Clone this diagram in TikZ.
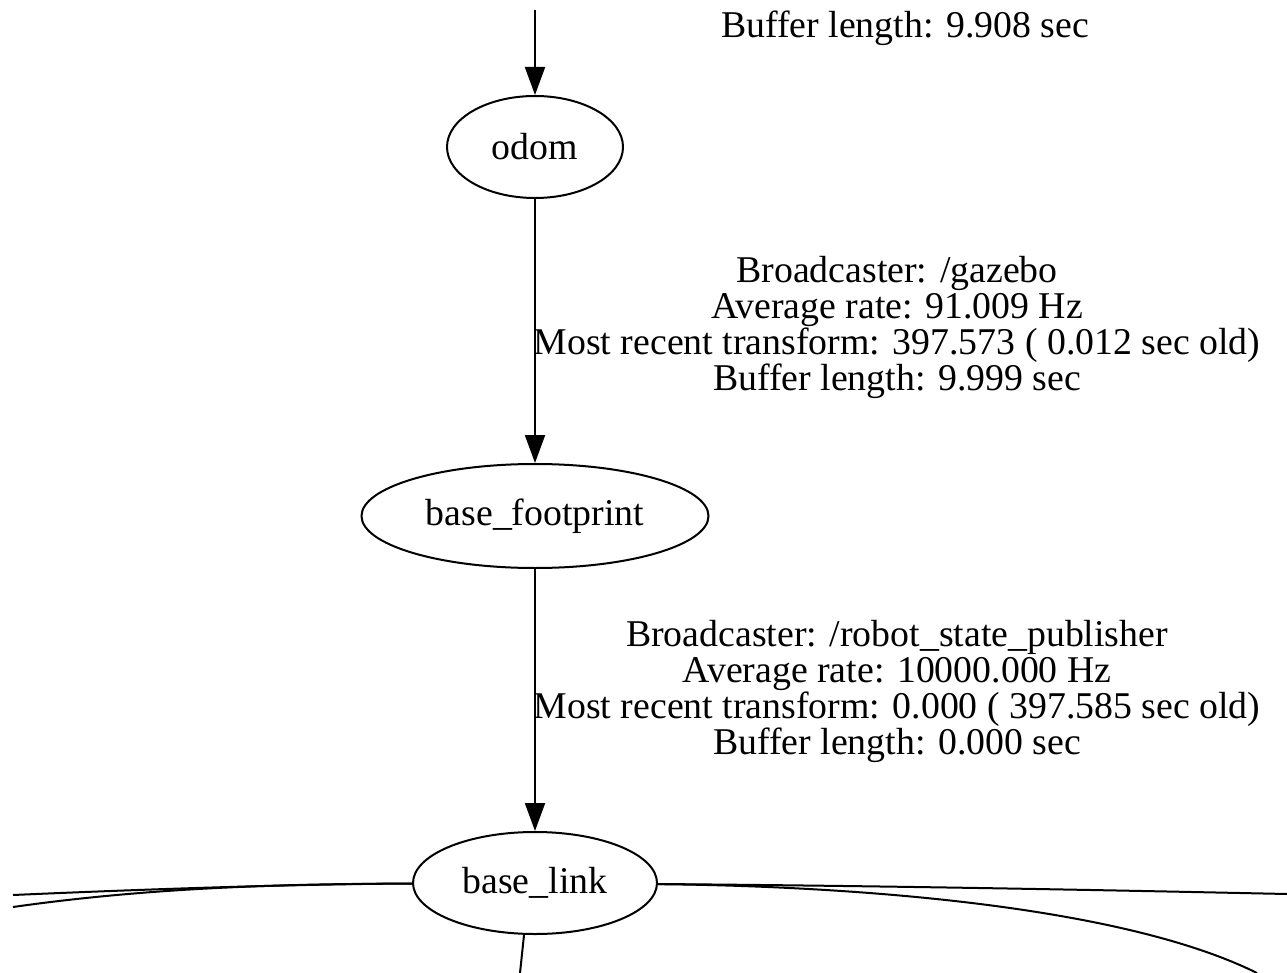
\documentclass[tikz,border=0pt]{standalone}
\usepackage{fontspec}
\setmainfont{Liberation Serif}
\usetikzlibrary{shapes.geometric,arrows.meta}
\begin{document}
\begin{tikzpicture}[x=1pt,y=-1pt,
  every node/.style={font=\fontsize{37.8}{36}\selectfont},
  frame/.style={draw,ellipse,line width=2pt,inner sep=0pt},
  lbl/.style={align=center,inner sep=0pt},
  edge/.style={line width=2pt},
  arr/.style={edge,-{Triangle[length=28pt,width=20pt]}}]
\useasboundingbox (0,0) rectangle (1287,973);
\node[frame,minimum width=176pt,minimum height=102pt] (odom) at (535,147) {odom};
\node[frame,minimum width=347pt,minimum height=104pt] (bf) at (535,516) {base\_footprint};
\node[frame,minimum width=244pt,minimum height=102pt] (bl) at (535,883) {base\_link};
\coordinate (t0) at (535,10);
\draw[arr] (t0) -- (odom);
\draw[arr] (odom) -- (bf);
\draw[arr] (bf) -- (bl);
\node[lbl] (l0) at (905,28) {Buffer length: 9.908 sec};
\node[lbl] (l1) at (897,327) {Broadcaster: /gazebo\\Average rate: 91.009 Hz\\Most recent transform: 397.573 ( 0.012 sec old)\\Buffer length: 9.999 sec};
\node[lbl] (l2) at (897,691) {Broadcaster: /robot\_state\_publisher\\Average rate: 10000.000 Hz\\Most recent transform: 0.000 ( 397.585 sec old)\\Buffer length: 0.000 sec};
\coordinate (e1) at (13,895);
\coordinate (e2) at (13,907);
\coordinate (e3) at (1287,894);
\coordinate (e4) at (1257,973);
\coordinate (e5) at (520,973);
\draw[edge] (bl) .. controls (300,884) and (150,889) .. (e1);
\draw[edge] (bl) .. controls (300,884) and (160,886) .. (e2);
\draw[edge] (bl) .. controls (900,886) and (1100,890) .. (e3);
\draw[edge] (bl) .. controls (850,886) and (1120,905) .. (e4);
\draw[edge] (bl.south) ++(-11,0) coordinate (bs) (bs) -- (e5);
\end{tikzpicture}
\end{document}
